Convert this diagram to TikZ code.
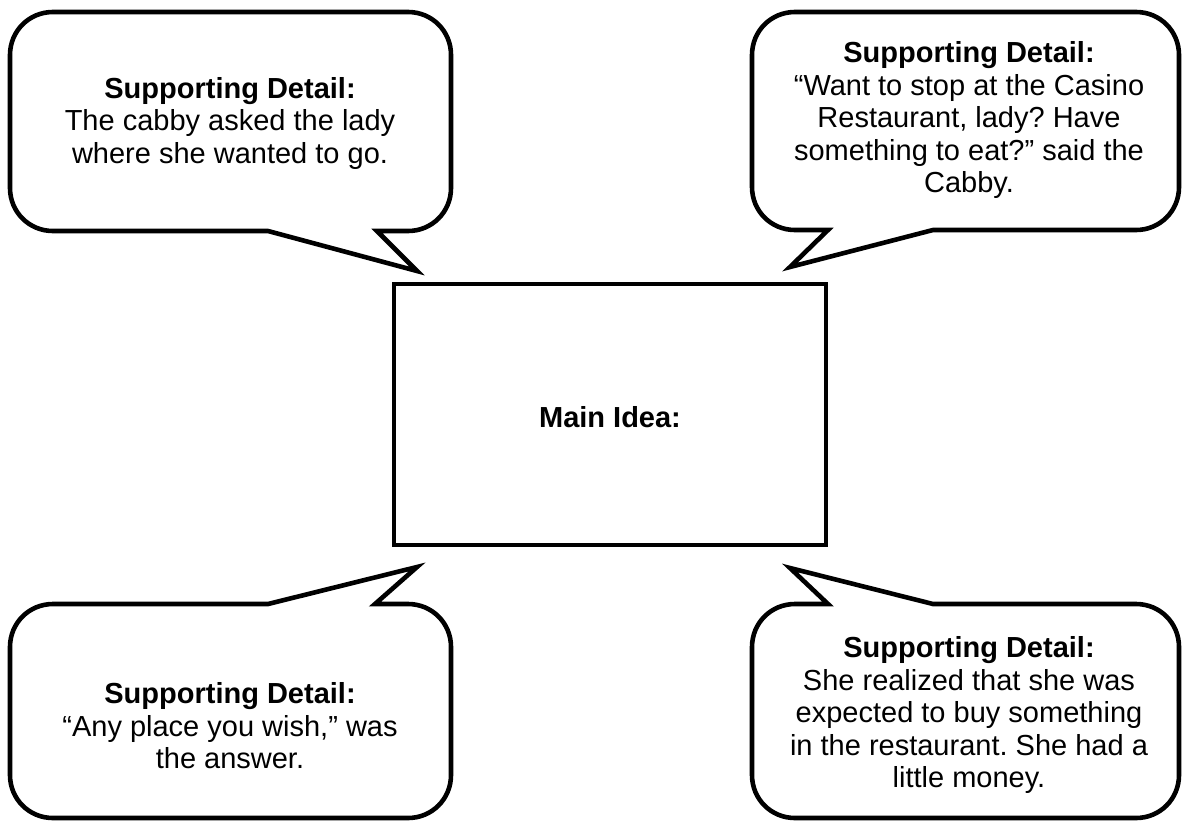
\documentclass[tikz,border=0pt]{standalone}
\usepackage{fontspec}
\setmainfont{Liberation Sans}
\frenchspacing
\begin{document}
\begin{tikzpicture}[x=1pt,y=-1pt,
  outline/.style={draw=black,line width=4.6pt,fill=white,line join=miter},
  txt/.style={align=center,inner sep=0pt,font=\fontsize{29}{32.5}\selectfont}]
\useasboundingbox[fill=white] (0,0) rectangle (1185,822);
% top-left callout
\draw[outline] (268,231) -- (417,271) -- (377,231) -- (408,231)
  .. controls (432,231) and (451,212) .. (451,188) -- (451,55)
  .. controls (451,31) and (432,12) .. (408,12) -- (53,12)
  .. controls (29,12) and (10,31) .. (10,55) -- (10,188)
  .. controls (10,212) and (29,231) .. (53,231) -- cycle;
% top-right callout
\draw[outline] (828,230) -- (790,267) -- (933,230) -- (1136,230)
  .. controls (1160,230) and (1179,211) .. (1179,187) -- (1179,55)
  .. controls (1179,31) and (1160,12) .. (1136,12) -- (795,12)
  .. controls (771,12) and (752,31) .. (752,55) -- (752,187)
  .. controls (752,211) and (771,230) .. (795,230) -- cycle;
% bottom-left callout
\draw[outline] (375,604) -- (417,567) -- (268,604) -- (53,604)
  .. controls (29,604) and (10,623) .. (10,647) -- (10,775)
  .. controls (10,799) and (29,818) .. (53,818) -- (408,818)
  .. controls (432,818) and (451,799) .. (451,775) -- (451,647)
  .. controls (451,623) and (432,604) .. (408,604) -- cycle;
% bottom-right callout
\draw[outline] (828,604) -- (790,568) -- (933,604) -- (1136,604)
  .. controls (1160,604) and (1179,623) .. (1179,647) -- (1179,775)
  .. controls (1179,799) and (1160,818) .. (1136,818) -- (795,818)
  .. controls (771,818) and (752,799) .. (752,775) -- (752,647)
  .. controls (752,623) and (771,604) .. (795,604) -- cycle;
% main box
\node[draw=black,line width=4.6pt,fill=white,minimum width=432pt,minimum height=261pt,inner sep=0pt] (main) at (610,414.5) {};
\node[txt] (maintxt) at (610,417) {\textbf{Main Idea:}};
% texts
\node[txt] (tl) at (230,123) {\textbf{Supporting Detail:}\\The cabby asked the lady\\where she wanted to go.};
\node[txt] (tr) at (969,120) {\textbf{Supporting Detail:}\\“Want to stop at the Casino\\Restaurant, lady? Have\\something to eat?” said the\\Cabby.};
\node[txt] (bl) at (230,726) {\textbf{Supporting Detail:}\\“Any place you wish,” was\\the answer.};
\node[txt] (br) at (969,715) {\textbf{Supporting Detail:}\\She realized that she was\\expected to buy something\\in the restaurant. She had a\\little money.};
\end{tikzpicture}
\end{document}
